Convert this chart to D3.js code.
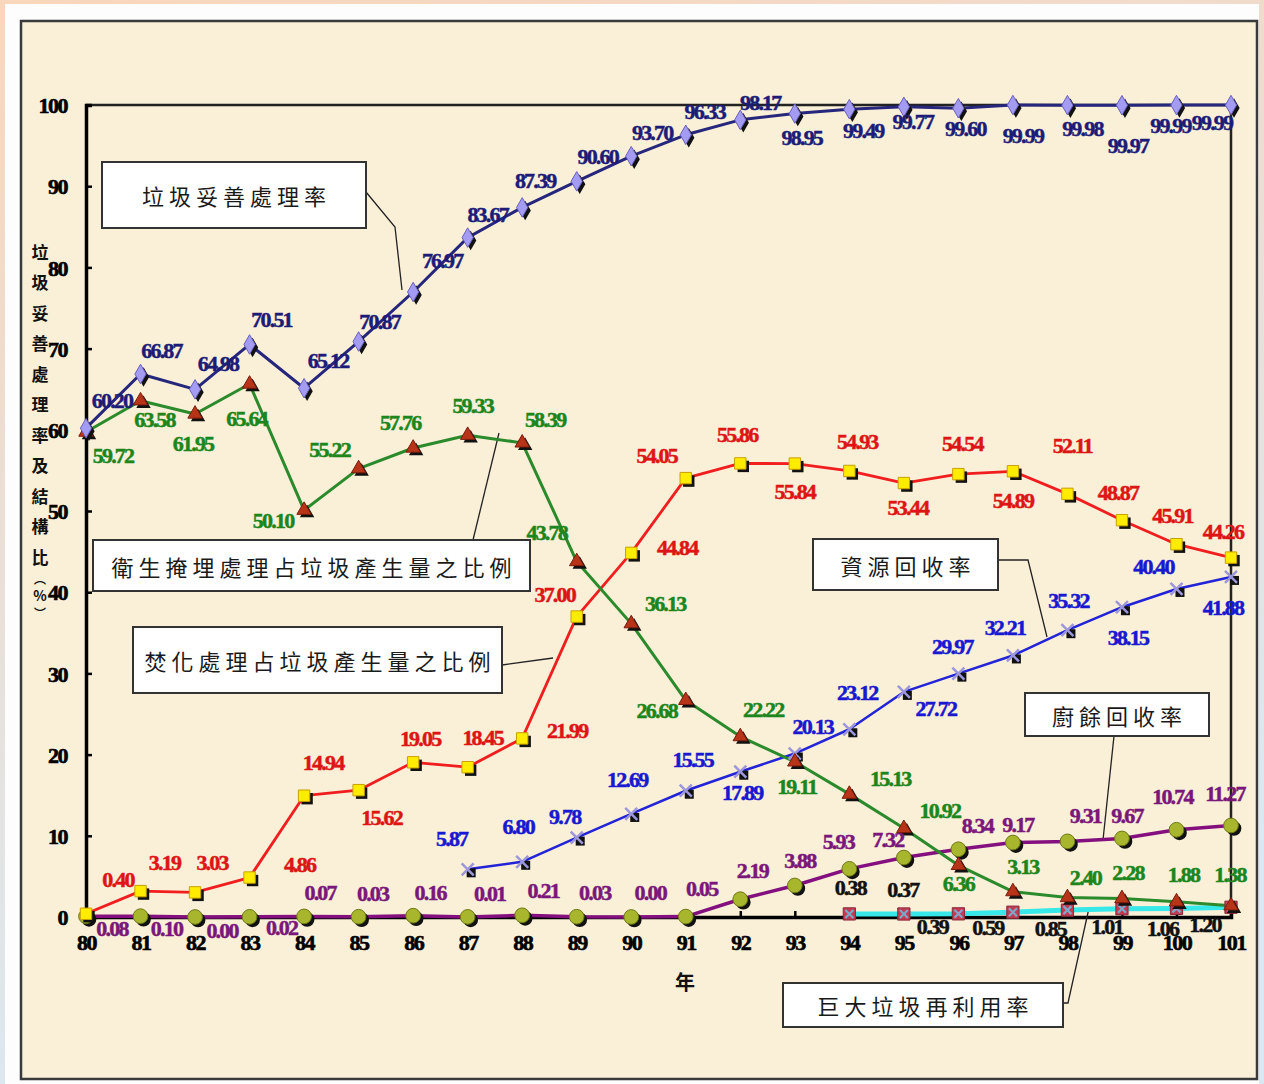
<!DOCTYPE html>
<html>
<head>
<meta charset="utf-8">
<script src="https://cdn.jsdelivr.net/npm/d3@7"></script>
<style>
html, body { margin: 0; padding: 0; background: #fff; }
svg { display: block; }
</style>
</head>
<body>
<svg id="chart" width="1264" height="1084"></svg>
<script>
// 年度（民國）
var years = [80, 81, 82, 83, 84, 85, 86, 87, 88, 89, 90, 91, 92, 93, 94, 95, 96, 97, 98, 99, 100, 101];
var yTicks = [0, 10, 20, 30, 40, 50, 60, 70, 80, 90, 100];

// series values (%), null = no data that year
var properRate = [60.20, 66.87, 64.98, 70.51, 65.12, 70.87, 76.97, 83.67, 87.39, 90.60, 93.70, 96.33, 98.17, 98.95, 99.49, 99.77, 99.60, 99.99, 99.98, 99.97, 99.99, 99.99];
var landfillShare = [59.72, 63.58, 61.95, 65.64, 50.10, 55.22, 57.76, 59.33, 58.39, 43.78, 36.13, 26.68, 22.22, 19.11, 15.13, 10.92, 6.36, 3.13, 2.40, 2.28, 1.88, 1.38];
var incinShare = [0.40, 3.19, 3.03, 4.86, 14.94, 15.62, 19.05, 18.45, 21.99, 37.00, 44.84, 54.05, 55.86, 55.84, 54.93, 53.44, 54.54, 54.89, 52.11, 48.87, 45.91, 44.26];
var recycleRate = [null, null, null, null, null, null, null, 5.87, 6.80, 9.78, 12.69, 15.55, 17.89, 20.13, 23.12, 27.72, 29.97, 32.21, 35.32, 38.15, 40.40, 41.88];
var foodRate = [0.08, 0.10, 0.00, 0.02, 0.07, 0.03, 0.16, 0.01, 0.21, 0.03, 0.00, 0.05, 2.19, 3.88, 5.93, 7.32, 8.34, 9.17, 9.31, 9.67, 10.74, 11.27];
var bulkyRate = [null, null, null, null, null, null, null, null, null, null, null, null, null, null, 0.38, 0.37, 0.39, 0.59, 0.85, 1.01, 1.06, 1.20];

// label offsets from each point (px), layout only
var properOff = [[26,-28],[21,-24],[23,-26],[22,-25],[24,-28],[21,-20],[29,-32],[20,-23],[13,-27],[21,-25],[21,-24],[19,-23],[20,-17],[7,24],[14,21],[9,15],[7,20],[10,30],[15,23],[6,40],[-6,20],[-19,17]];
var landOff = [[27,23],[14,19],[-2,30],[-3,34],[-31,10],[-29,-19],[-13,-25],[5,-30],[23,-23],[-30,-29],[34,-20],[-29,10],[23,-27],[2,25],[41,-16],[36,-18],[0,18],[10,-25],[18,-20],[6,-26],[7,-27],[-1,-31]];
var incOff = [[32,-34],[24,-29],[17,-30],[50,-13],[19,-33],[23,27],[7,-24],[15,-30],[45,-8],[-22,-22],[46,-5],[-29,-23],[-3,-29],[0,28],[8,-29],[4,24],[4,-31],[0,29],[5,-48],[-4,-28],[-4,-29],[-8,-26]];
var recOff = [null,null,null,null,null,null,null,[-16,-31],[-4,-35],[-12,-21],[-4,-34],[7,-31],[2,21],[18,-27],[8,-37],[32,17],[-6,-27],[-8,-28],[1,-30],[6,30],[-23,-22],[-8,31]];
var foodOff = [[26,12],[26,12],[27,13],[32,11],[16,-24],[14,-23],[17,-23],[22,-23],[21,-25],[18,-24],[19,-25],[16,-28],[12,-29],[5,-25],[-11,-27],[-16,-18],[19,-24],[5,-18],[18,-26],[5,-23],[-4,-33],[-6,-32]];
var bulkyOff = [null,null,null,null,null,null,null,null,null,null,null,null,null,null,[1,-26],[-1,-24],[-26,13],[-25,15],[-17,18],[-15,18],[-14,20],[-26,17]];

var callouts = [
  {text: "垃圾妥善處理率", x: 102, y: 162, w: 264, h: 66, leader: [[366,192],[395,227],[402,290]]},
  {text: "衛生掩埋處理占垃圾產生量之比例", x: 93, y: 540, w: 437, h: 51, leader: [[473,540],[499,433]]},
  {text: "焚化處理占垃圾產生量之比例", x: 133, y: 627, w: 369, h: 66, leader: [[502,665],[553,658]]},
  {text: "資源回收率", x: 813, y: 539, w: 185, h: 51, leader: [[998,560],[1028,560],[1047,637]]},
  {text: "廚餘回收率", x: 1025, y: 693, w: 184, h: 43, leader: [[1114,736],[1103,840]]},
  {text: "巨大垃圾再利用率", x: 783, y: 983, w: 280, h: 44, leader: [[1063,1003],[1068,1003],[1089,908]]}
];

var yTitle = ["垃","圾","妥","善","處","理","率","及","結","構","比","︵","%","︶"];

var svg = d3.select("#chart");

// page background
var defs = svg.append("defs");
var grad = defs.append("linearGradient").attr("id", "pageBg")
  .attr("x1", 0).attr("y1", 0).attr("x2", 0.3).attr("y2", 1);
grad.append("stop").attr("offset", "0%").attr("stop-color", "#f9d6bc");
grad.append("stop").attr("offset", "100%").attr("stop-color", "#d9e9f3");
svg.append("rect").attr("width", 1264).attr("height", 1084).attr("fill", "url(#pageBg)");
svg.append("rect").attr("x", 5).attr("y", 4).attr("width", 1254).attr("height", 1090).attr("fill", "#fdfdfd");
svg.append("rect").attr("x", 21).attr("y", 21).attr("width", 1236).attr("height", 1058)
  .attr("fill", "#faefd7").attr("stroke", "#3a3a3a").attr("stroke-width", 2.5);

var x = d3.scaleLinear().domain([80, 101]).range([86, 1231]);
var y = d3.scaleLinear().domain([0, 100]).range([917, 105]);

// plot frame
svg.append("line").attr("x1", 86).attr("x2", 1231).attr("y1", 105).attr("y2", 105)
  .attr("stroke", "#222").attr("stroke-width", 2.5);
svg.append("line").attr("x1", 1231).attr("x2", 1231).attr("y1", 105).attr("y2", 917)
  .attr("stroke", "#222").attr("stroke-width", 2.5);

var yAxis = svg.append("g").attr("transform", "translate(86,0)")
  .call(d3.axisLeft(y).tickValues(yTicks).tickSize(-6).tickPadding(19).tickFormat(d3.format("d")));
var xAxis = svg.append("g").attr("transform", "translate(0,917)")
  .call(d3.axisBottom(x).tickValues(years).tickSize(-6).tickPadding(17).tickFormat(d3.format("d")));
[yAxis, xAxis].forEach(function(ax) {
  ax.select(".domain").attr("stroke", "#000").attr("stroke-width", 3.5);
  ax.selectAll(".tick line").attr("stroke", "#000").attr("stroke-width", 2.5);
  ax.selectAll(".tick text")
    .attr("fill", "#000")
    .style("font-family", "'Liberation Serif', 'DejaVu Serif', serif")
    .style("font-weight", "bold")
    .style("font-size", "22px")
    .style("letter-spacing", "-1.5px")
    .attr("stroke", "#000").attr("stroke-width", 0.6);
});
yAxis.selectAll(".tick text").attr("dy", "0.35em");

// axis titles
svg.append("g").selectAll("text").data(yTitle).enter().append("text")
  .attr("x", 40)
  .attr("y", function(d, i) { return i < 11 ? 251 + i * 30.5 : 578 + (i - 11) * 17; })
  .attr("text-anchor", "middle")
  .attr("dominant-baseline", "central")
  .style("font-family", "'Noto Sans CJK TC', sans-serif")
  .style("font-weight", "bold")
  .style("font-size", function(d, i) { return i < 11 ? "17px" : (d === "%" ? "14px" : "12px"); })
  .attr("fill", "#111")
  .text(function(d) { return d; });

svg.append("text").attr("x", 685).attr("y", 981)
  .attr("text-anchor", "middle").attr("dominant-baseline", "central")
  .style("font-family", "'Noto Sans CJK TC', sans-serif")
  .style("font-weight", "bold").style("font-size", "20px")
  .attr("fill", "#111").text("年");

// callouts (boxes + leader lines)
var cg = svg.append("g");
callouts.forEach(function(c) {
  cg.append("path")
    .attr("d", d3.line()(c.leader))
    .attr("fill", "none").attr("stroke", "#222").attr("stroke-width", 1.3);
  cg.append("rect").attr("x", c.x).attr("y", c.y).attr("width", c.w).attr("height", c.h)
    .attr("fill", "#fff").attr("stroke", "#333").attr("stroke-width", 2);
  cg.append("text")
    .attr("x", c.x + c.w / 2 + 2.5).attr("y", c.y + c.h / 2)
    .attr("text-anchor", "middle").attr("dominant-baseline", "central")
    .style("font-family", "'Noto Sans CJK TC', sans-serif")
    .style("font-size", "22px").style("letter-spacing", "5px")
    .attr("fill", "#1a1a1a")
    .text(c.text);
});

function pts(vals, offs) {
  return years.map(function(yr, i) {
    return {yr: yr, v: vals[i], off: offs[i]};
  }).filter(function(d) { return d.v !== null; });
}

var series = [
  {key: "bulky", vals: bulkyRate, offs: bulkyOff, line: "#36e8e8", lw: 5, label: "#111", marker: "sqx"},
  {key: "food", vals: foodRate, offs: foodOff, line: "#84107f", lw: 3.5, label: "#7a177a", marker: "circle"},
  {key: "recycle", vals: recycleRate, offs: recOff, line: "#2323d8", lw: 2.5, label: "#1818d0", marker: "x"},
  {key: "incin", vals: incinShare, offs: incOff, line: "#f01e1e", lw: 2.8, label: "#dd1515", marker: "square"},
  {key: "landfill", vals: landfillShare, offs: landOff, line: "#2b8a2b", lw: 3, label: "#1c861c", marker: "triangle"},
  {key: "proper", vals: properRate, offs: properOff, line: "#26267c", lw: 3, label: "#1c1c78", marker: "diamond"}
];

var lineGen = d3.line().x(function(d) { return x(d.yr); }).y(function(d) { return y(d.v); });

var lineG = svg.append("g");
series.forEach(function(s) {
  lineG.append("path").datum(pts(s.vals, s.offs))
    .attr("d", lineGen)
    .attr("fill", "none").attr("stroke", s.line).attr("stroke-width", s.lw)
    .attr("stroke-linejoin", "round");
});

var sym = {
  diamond: d3.symbol().type(d3.symbolDiamond).size(110),
  triangle: d3.symbol().type(d3.symbolTriangle).size(90),
  square: d3.symbol().type(d3.symbolSquare).size(130),
  circle: d3.symbol().type(d3.symbolCircle).size(170),
  sqx: d3.symbol().type(d3.symbolSquare).size(150)
};

function drawMarkers(g, s) {
  var data = pts(s.vals, s.offs);
  var m = g.selectAll("g." + s.key).data(data).enter().append("g")
    .attr("class", s.key)
    .attr("transform", function(d) { return "translate(" + x(d.yr) + "," + y(d.v) + ")"; });
  if (s.marker === "x") {
    m.append("rect").attr("x", -1).attr("y", -1).attr("width", 9).attr("height", 9).attr("fill", "#111");
    m.append("path").attr("d", "M-6,-6L6,6M-6,6L6,-6")
      .attr("stroke", "#9c96dc").attr("stroke-width", 2.5).attr("fill", "none");
    return;
  }
  if (s.marker === "sqx") {
    m.append("path").attr("d", sym.sqx()).attr("fill", "#c33a52").attr("stroke", "#8a2a3a").attr("stroke-width", 1);
    m.append("path").attr("d", "M-4,-4L4,4M-4,4L4,-4")
      .attr("stroke", "#7fa6c8").attr("stroke-width", 2.2).attr("fill", "none");
    return;
  }
  var fills = {diamond: "#a49cf2", triangle: "#b83418", square: "#ffec00", circle: "#a8b62e"};
  var strokes = {diamond: "#6a60c0", triangle: "#7a1c0c", square: "#c8a000", circle: "#6e7812"};
  m.append("path").attr("d", sym[s.marker]())
    .attr("transform", "translate(3,3)").attr("fill", "#111");
  m.append("path").attr("d", sym[s.marker]())
    .attr("fill", fills[s.marker]).attr("stroke", strokes[s.marker]).attr("stroke-width", 1);
}

var markG = svg.append("g");
series.forEach(function(s) { drawMarkers(markG, s); });

// data labels
var labG = svg.append("g");
series.forEach(function(s) {
  labG.selectAll("text." + s.key).data(pts(s.vals, s.offs)).enter().append("text")
    .attr("class", s.key)
    .attr("x", function(d) { return x(d.yr) + d.off[0]; })
    .attr("y", function(d) { return y(d.v) + d.off[1]; })
    .attr("text-anchor", "middle")
    .attr("dominant-baseline", "central")
    .style("font-family", "'Liberation Serif', 'DejaVu Serif', serif")
    .style("font-weight", "bold")
    .style("font-size", "22px")
    .style("letter-spacing", "-1.8px")
    .attr("fill", s.label)
    .attr("stroke", s.label).attr("stroke-width", 0.5)
    .text(function(d) { return d.v.toFixed(2); });
});
</script>
</body>
</html>
